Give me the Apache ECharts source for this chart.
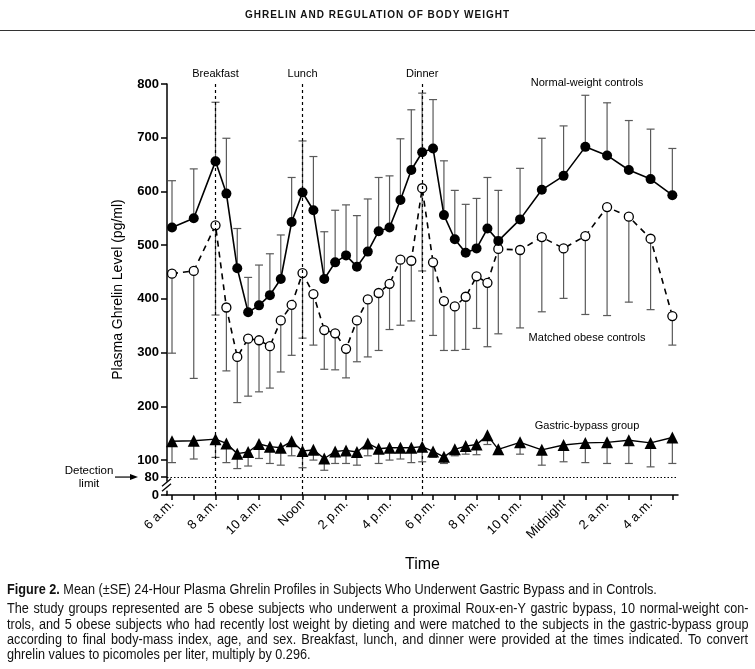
<!DOCTYPE html>
<html><head><meta charset="utf-8">
<script src="https://cdn.jsdelivr.net/npm/echarts@6/dist/echarts.min.js"></script>
<style>
html,body{margin:0;padding:0;background:#fff;}
#chart{width:755px;height:669px;position:absolute;left:0;top:0;}
#hdr{position:absolute;left:0;top:9px;width:755px;text-align:center;font-family:'Liberation Sans',Arial,sans-serif;font-weight:bold;font-size:10px;letter-spacing:1px;color:#111;}
#rule{position:absolute;left:0;top:30px;width:755px;height:0;border-top:1px solid #333;}
#cap{position:absolute;left:7px;top:582px;width:819px;transform:scaleX(0.905);transform-origin:0 0;font-family:'Liberation Sans',Arial,sans-serif;font-size:14px;color:#111;line-height:15.3px;}
#cap .t{margin-bottom:4px;}
#cap .j{white-space:nowrap;}
#cap .j span{white-space:nowrap;}
</style></head><body>
<div id="chart"></div>
<div id="hdr">GHRELIN AND REGULATION OF BODY WEIGHT</div>
<div id="rule"></div>
<div id="cap">
<div class="t"><b>Figure 2.</b> Mean (±SE) 24-Hour Plasma Ghrelin Profiles in Subjects Who Underwent Gastric Bypass and in Controls.</div>
<div class="j"><span>The study groups represented are 5 obese subjects who underwent a proximal Roux-en-Y gastric bypass, 10 normal-weight con-</span></div>
<div class="j"><span>trols, and 5 obese subjects who had recently lost weight by dieting and were matched to the subjects in the gastric-bypass group</span></div>
<div class="j"><span>according to final body-mass index, age, and sex. Breakfast, lunch, and dinner were provided at the times indicated. To convert</span></div>
<div>ghrelin values to picomoles per liter, multiply by 0.296.</div>
</div>
<script>
// hours (6 = 6 a.m., 24 = midnight, 29 = 5 a.m. next day)
const times = [6,7,8,8.5,9,9.5,10,10.5,11,11.5,12,12.5,13,13.5,14,14.5,15,15.5,16,16.5,17,17.5,18,18.5,19,19.5,20,20.5,21,22,23,24,25,26,27,28,29];
const normalWeight = [533,550,656,596,457,375,388,407,437,543,598,565,437,468,481,460,488,526,533,584,640,673,680,556,511,486,494,531,508,548,603,629,683,667,640,623,593];
const normalWeightSETop = [620,642,766,699,531,440,463,484,519,626,694,665,525,565,575,555,586,626,629,698,752,783,771,657,602,576,587,626,602,643,699,722,779,765,732,716,680];
const matchedObese = [447,452,537,384,292,326,323,312,360,389,448,409,342,336,307,360,399,411,428,473,471,606,468,396,386,404,442,430,493,491,515,494,517,571,553,512,368];
const matchedObeseSELow = [299,252,370,266,207,219,227,234,264,295,327,314,269,268,253,283,292,304,343,351,359,452,332,304,304,306,345,311,335,346,376,401,371,369,394,380,314];
const gastricBypass = [135,136,139,131,112,115,130,125,123,135,117,119,103,116,118,115,131,121,123,123,123,125,116,106,120,126,129,146,120,133,119,128,132,133,137,132,142];
const gastricBypassSELow = [97,102,105,97,90,93,103,96,94,108,91,100,88,96,96,94,108,96,100,102,97,98,105,96,108,111,110,129,120,111,94,98,97,96,96,92,96];
const meals = [{name:'Breakfast', t:8},{name:'Lunch', t:12},{name:'Dinner', t:17.5}];
const detectionLimit = 80;
const yTickValues = [0,80,100,200,300,400,500,600,700,800];
const xTickHours = [6,7,8,9,10,11,12,13,14,15,16,17,18,19,20,21,22,23,24,25,26,27,28,29];
const xLabelHours = [6,8,10,12,14,16,18,20,22,24,26,28];
const xLabelTexts = ['6 a.m.','8 a.m.','10 a.m.','Noon','2 p.m.','4 p.m.','6 p.m.','8 p.m.','10 p.m.','Midnight','2 a.m.','4 a.m.'];

// justify caption lines to the full caption width
(function(){
  const target = 819;
  document.querySelectorAll('#cap .j span').forEach(sp => {
    const w = sp.offsetWidth;
    const n = (sp.textContent.match(/ /g) || []).length;
    if (n > 0) sp.style.wordSpacing = ((target - w) / n) + 'px';
  });
})();

// broken axis: stretched segment 80-100, compressed 0-80
function pos(v){
  if (v >= 100) return v;
  if (v >= 80) return 100 - (100 - v) * 1.58;
  return 68.4 - (80 - v) * (33.4 / 80);
}
const yTickPos = yTickValues.map(pos);
function yLabel(p){
  let best = 0, d = 1e9;
  yTickValues.forEach(v => { const dd = Math.abs(pos(v) - p); if (dd < d) { d = dd; best = v; } });
  return String(best);
}
function xLabel(h){ const i = xLabelHours.indexOf(Math.round(h)); return i >= 0 ? xLabelTexts[i] : ''; }

const FONT = "'Liberation Sans', Arial, sans-serif";
const X_MIN = 5.77, X_MAX = 29.26, Y_MIN = 35, Y_MAX = 800;

function errRender(params, api){
  const x = api.value(0), v = api.value(1), e = api.value(2);
  const p0 = api.coord([x, v]), p1 = api.coord([x, e]);
  if (Math.abs(p0[1] - p1[1]) < 1) return null;
  const hw = 4;
  const st = {stroke:'#5a5a5a', lineWidth:1.2};
  return {type:'group', children:[
    {type:'line', shape:{x1:p0[0], y1:p0[1], x2:p1[0], y2:p1[1]}, style:st},
    {type:'line', shape:{x1:p1[0]-hw, y1:p1[1], x2:p1[0]+hw, y2:p1[1]}, style:st}
  ]};
}
function errData(vals, ends){ return times.map((t,i) => [t, pos(vals[i]), pos(ends[i])]); }
function lineData(vals){ return times.map((t,i) => [t, pos(vals[i])]); }

const chart = echarts.init(document.getElementById('chart'), null, {renderer:'canvas'});
const option = {
  animation:false,
  backgroundColor:'#fff',
  textStyle:{fontFamily:FONT},
  grid:{left:167, top:84, width:511, height:411},
  xAxis:{
    type:'value', min:X_MIN, max:X_MAX,
    axisLine:{onZero:false, lineStyle:{color:'#000', width:1.5}},
    axisTick:{show:true, customValues:xTickHours, length:5, lineStyle:{color:'#000', width:1.5}},
    axisLabel:{customValues:xLabelHours, formatter:xLabel, rotate:45, fontSize:13, color:'#000', margin:7, fontFamily:FONT},
    splitLine:{show:false},
    name:'Time', nameLocation:'middle', nameGap:62,
    nameTextStyle:{fontSize:16, color:'#000', fontFamily:FONT}
  },
  yAxis:{
    type:'value', min:Y_MIN, max:Y_MAX,
    axisLine:{show:true, onZero:false, lineStyle:{color:'#000', width:1.5}},
    axisTick:{show:true, customValues:yTickPos, length:6, lineStyle:{color:'#000', width:1.5}},
    axisLabel:{customValues:yTickPos, formatter:yLabel, fontSize:13, fontWeight:'bold', color:'#000', margin:8, fontFamily:FONT},
    splitLine:{show:false},
    name:'Plasma Ghrelin Level (pg/ml)', nameLocation:'middle', nameGap:42,
    nameTextStyle:{fontSize:14, color:'#000', fontFamily:FONT}
  },
  series:[
    {type:'custom', name:'nwErr', renderItem:errRender, data:errData(normalWeight, normalWeightSETop), encode:{x:0, y:[1,2]}, z:1, silent:true},
    {type:'custom', name:'obErr', renderItem:errRender, data:errData(matchedObese, matchedObeseSELow), encode:{x:0, y:[1,2]}, z:1, silent:true},
    {type:'custom', name:'gbErr', renderItem:errRender, data:errData(gastricBypass, gastricBypassSELow), encode:{x:0, y:[1,2]}, z:1, silent:true},
    {
      type:'line', name:'Normal-weight controls', data:lineData(normalWeight), z:5,
      symbol:'circle', symbolSize:10, itemStyle:{color:'#000'},
      lineStyle:{color:'#000', width:1.6},
      markLine:{
        silent:true, symbol:'none', animation:false,
        data:[
          ...meals.map(m => ({xAxis:m.t, name:m.name, lineStyle:{type:[3,3], color:'#000', width:1.2},
            label:{show:true, position:'end', formatter:'{b}', color:'#000', fontSize:11, distance:5, fontFamily:FONT}})),
          {yAxis:pos(detectionLimit), lineStyle:{type:[1.5,2], color:'#000', width:1.2}, label:{show:false}}
        ]
      }
    },
    {
      type:'line', name:'Matched obese controls', data:lineData(matchedObese), z:4,
      symbol:'circle', symbolSize:9, itemStyle:{color:'#fff', borderColor:'#000', borderWidth:1.3},
      lineStyle:{color:'#000', width:1.6, type:[6,5]}
    },
    {
      type:'line', name:'Gastric-bypass group', data:lineData(gastricBypass), z:4,
      symbol:'triangle', symbolSize:12, itemStyle:{color:'#000'},
      lineStyle:{color:'#000', width:1.4}
    }
  ]
};
chart.setOption(option);

// annotations positioned through the grid's coordinate system
const brk = chart.convertToPixel({gridIndex:0}, [X_MIN, 50.5]);
const det = chart.convertToPixel({gridIndex:0}, [X_MIN, pos(detectionLimit)]);
const bx = brk[0], by = brk[1];
chart.setOption({
  graphic:[
    {type:'rect', shape:{x:bx-2, y:by-5, width:4, height:9}, style:{fill:'#fff'}, z:10},
    {type:'line', shape:{x1:bx-5, y1:by-0.5, x2:bx+4, y2:by-8}, style:{stroke:'#000', lineWidth:1.3}, z:11},
    {type:'line', shape:{x1:bx-5, y1:by+4.5, x2:bx+4, y2:by-3}, style:{stroke:'#000', lineWidth:1.3}, z:11},
    {type:'text', x:89, y:det[1]-6, style:{text:'Detection', font:'11.5px ' + FONT, fill:'#000', align:'center', verticalAlign:'middle'}},
    {type:'text', x:89, y:det[1]+7, style:{text:'limit', font:'11.5px ' + FONT, fill:'#000', align:'center', verticalAlign:'middle'}},
    {type:'line', shape:{x1:115, y1:det[1], x2:132, y2:det[1]}, style:{stroke:'#000', lineWidth:1.2}},
    {type:'polygon', shape:{points:[[138, det[1]], [130, det[1]-3], [130, det[1]+3]]}, style:{fill:'#000'}},
    {type:'text', x:587, y:83, style:{text:'Normal-weight controls', font:'11px ' + FONT, fill:'#000', align:'center', verticalAlign:'middle'}},
    {type:'text', x:587, y:338, style:{text:'Matched obese controls', font:'11px ' + FONT, fill:'#000', align:'center', verticalAlign:'middle'}},
    {type:'text', x:587, y:426, style:{text:'Gastric-bypass group', font:'11px ' + FONT, fill:'#000', align:'center', verticalAlign:'middle'}}
  ]
});
</script>
</body></html>
